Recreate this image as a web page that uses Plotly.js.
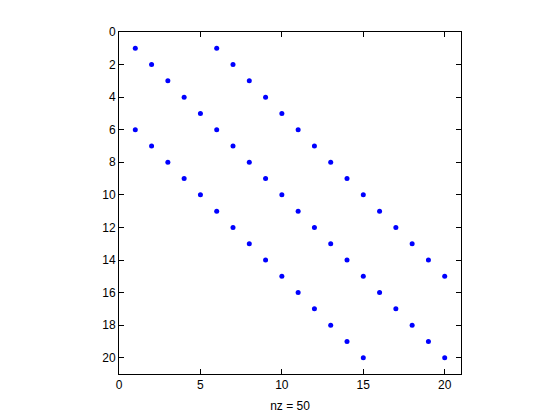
<!DOCTYPE html>
<html><head><meta charset="utf-8">
<script src="https://cdn.plot.ly/plotly-3.0.1.min.js"></script>
<style>body{margin:0;background:#fff}#c{width:560px;height:420px}</style>
</head><body><div id="c"></div>
<script>
// nonzero entries of the sparse matrix (column, row)
const mainCols = [1,2,3,4,5,6,7,8,9,10,11,12,13,14,15,16,17,18,19,20];
const mainRows = [1,2,3,4,5,6,7,8,9,10,11,12,13,14,15,16,17,18,19,20];
const lowerCols = [1,2,3,4,5,6,7,8,9,10,11,12,13,14,15];
const lowerRows = [6,7,8,9,10,11,12,13,14,15,16,17,18,19,20];
const upperCols = [6,7,8,9,10,11,12,13,14,15,16,17,18,19,20];
const upperRows = [1,2,3,4,5,6,7,8,9,10,11,12,13,14,15];
const xTicks = [0,5,10,15,20];
const yTicks = [0,2,4,6,8,10,12,14,16,18,20];
const xLabel = 'nz = 50';

const xs = mainCols.concat(lowerCols, upperCols);
const ys = mainRows.concat(lowerRows, upperRows);

const font = {family: 'Liberation Sans, Arial, sans-serif', size: 12, color: '#000'};
const axisCommon = {
  showgrid: false, zeroline: false, showline: true, linecolor: '#000', linewidth: 1,
  mirror: 'ticks', ticks: 'inside', ticklen: 5, tickcolor: '#000', tickfont: font
};
Plotly.newPlot('c', [{
  x: xs, y: ys, type: 'scatter', mode: 'markers',
  marker: {symbol: 'circle', size: 5, color: '#0000ff'}
}], {
  width: 560, height: 420,
  margin: {l: 119, r: 99, t: 32, b: 46},
  paper_bgcolor: '#fff', plot_bgcolor: '#fff',
  showlegend: false,
  xaxis: Object.assign({}, axisCommon, {range: [0, 21], tickvals: xTicks,
    title: {text: xLabel, font: font, standoff: 10}}),
  yaxis: Object.assign({}, axisCommon, {range: [21, 0], tickvals: yTicks}),
}, {staticPlot: true});
</script></body></html>
